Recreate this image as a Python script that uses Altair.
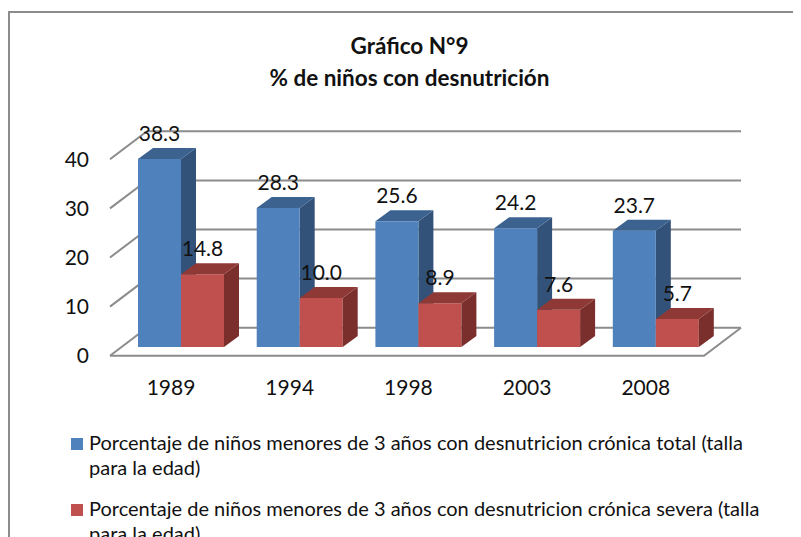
import altair as alt
import pandas as pd

# ---- chart values ----
years = ["1989", "1994", "1998", "2003", "2008"]
total = [38.3, 28.3, 25.6, 24.2, 23.7]
severe = [14.8, 10.0, 8.9, 7.6, 5.7]
ticks = [0, 10, 20, 30, 40]
name_total = "Porcentaje de niños menores de 3 años con desnutricion crónica total (talla|para la edad)"
name_severe = "Porcentaje de niños menores de 3 años con desnutricion crónica severa (talla|para la edad)"

# ---- 3D projection, in scale units ----
W, H = 785, 560
SLOT = 118.7          # px per category
UNIT = 4.91           # px per percentage point
BAR = 43 / SLOT       # bar width
DX, DY = 15 / SLOT, 11 / UNIT              # bar depth
WALL_X0, FLOOR_X1 = -71 / SLOT, 523 / SLOT # floor front corners
WALL_DX, WALL_DY = 37 / SLOT, 28 / UNIT    # wall depth
FLOOR = -8.7 / UNIT                        # floor front line
XS = alt.Scale(domain=[-173 / SLOT, (W - 173) / SLOT], range=[0, W], nice=False, zero=False)
YS = alt.Scale(domain=[(347 - 8 - H) / UNIT, (347 - 8) / UNIT], range=[H, 0], nice=False, zero=False)
X = alt.X("x:Q", scale=XS, axis=None)
Y = alt.Y("y:Q", scale=YS, axis=None)

bars = []
for i, y in enumerate(years):
    bars.append(dict(i=i, year=y, value=total[i], x0=i - BAR, x1=i, series=name_total))
    bars.append(dict(i=i, year=y, value=severe[i], x0=i, x1=i + BAR, series=name_severe))
bars = pd.DataFrame(bars)


def faces(series):
    top, side = [], []
    for r in bars[bars.series == series].itertuples():
        v = r.value
        for x, a, b in [(r.x0, v, v), (r.x0 + DX, v + DY, v), (r.x1, v + DY, v), (r.x1 + DX, v + DY, v + DY)]:
            top.append(dict(k=r.i, x=x, y=a, y2=b))
        for x, a, b in [(r.x1, v, 0), (r.x1 + DX, v + DY, DY)]:
            side.append(dict(k=r.i, x=x, y=a, y2=b))
    return pd.DataFrame(top), pd.DataFrame(side)


def area(df, color):
    return alt.Chart(df).mark_area(color=color, interpolate="linear", strokeWidth=0).encode(
        x=X, y=Y, y2="y2:Q", detail="k:N")


# frame
frame = alt.Chart(pd.DataFrame({"a": [0]})).mark_rect(fill="white", stroke="#8c8c8c", strokeWidth=2).encode(
    x=alt.value(1), x2=alt.value(830), y=alt.value(4), y2=alt.value(600))

# walls and floor
grid = []
for n, t in enumerate(ticks):
    f = FLOOR + t
    grid.append(dict(k=f"d{n}", x=WALL_X0, y=f))
    grid.append(dict(k=f"d{n}", x=WALL_X0 + WALL_DX, y=f + WALL_DY))
    grid.append(dict(k=f"d{n}", x=FLOOR_X1 + WALL_DX, y=f + WALL_DY))
grid.append(dict(k="floor", x=WALL_X0, y=FLOOR))
grid.append(dict(k="floor", x=FLOOR_X1, y=FLOOR))
grid.append(dict(k="floor", x=FLOOR_X1 + WALL_DX, y=FLOOR + WALL_DY))
gridlines = alt.Chart(pd.DataFrame(grid)).mark_line(color="#8c8c8c", strokeWidth=2).encode(
    x=X, y=Y, detail="k:N", order=alt.Order("x:Q"))

tb, sb = faces(name_total)
tr, sr = faces(name_severe)

front = alt.Chart(bars).mark_rect(strokeWidth=0).encode(
    x=alt.X("x0:Q", scale=XS, axis=None), x2="x1:Q",
    y=alt.Y("value:Q", scale=YS, axis=None), y2=alt.datum(0),
    color=alt.Color("series:N", scale=alt.Scale(domain=[name_total, name_severe], range=["#4F81BD", "#C0504D"]),
                    legend=alt.Legend(title=None, orient="none", legendX=59, legendY=426, symbolType="square",
                                      symbolSize=144, symbolStrokeWidth=0, labelFont="Lato", labelFontSize=20,
                                      labelColor="#111111", labelLimit=0, rowPadding=21, labelOffset=2,
                                      labelBaseline="middle", labelExpr="split(datum.label,'|')")))

FONT = dict(font="Lato", fontSize=21, color="#111111")
vals = bars.assign(lx=bars.x0 + (bars.x1 - bars.x0) / 2, ly=bars.value + 4.9)
labels = alt.Chart(vals).mark_text(**FONT).encode(
    x=alt.X("lx:Q", scale=XS, axis=None), y=alt.Y("ly:Q", scale=YS, axis=None),
    text=alt.Text("value:Q", format=".1f"))

tickdf = pd.DataFrame({"x": [WALL_X0 - 21 / SLOT] * len(ticks), "y": [FLOOR - 0.3 + t for t in ticks], "t": ticks})
ylabels = alt.Chart(tickdf).mark_text(align="right", **FONT).encode(x=X, y=Y, text="t:N")

yeardf = pd.DataFrame({"x": [i - 10 / SLOT for i in range(len(years))], "y": [-42 / UNIT] * len(years), "t": years})
xlabels = alt.Chart(yeardf).mark_text(**FONT).encode(x=X, y=Y, text="t:N")

chart = alt.layer(
    frame, gridlines, area(sb, "#33527A"), area(tb, "#3C6290"), front,
    area(sr, "#7B2F2D"), area(tr, "#8E3936"), labels, ylabels, xlabels,
).properties(
    width=W, height=H, padding=0, autosize=alt.AutoSizeParams(type="none"),
    title=alt.TitleParams(["Gráfico N°9", "% de niños con desnutrición"], font="Lato", fontSize=22.5, fontWeight="bold",
                          color="#111111", lineHeight=32, anchor="middle", dx=9, dy=82, offset=0),
    config=alt.Config(view=alt.ViewConfig(stroke=None), style={"guide-label": alt.MarkConfig(lineHeight=25)}),
)

chart.save("out.html", embed_options={"renderer": "svg", "actions": False})
